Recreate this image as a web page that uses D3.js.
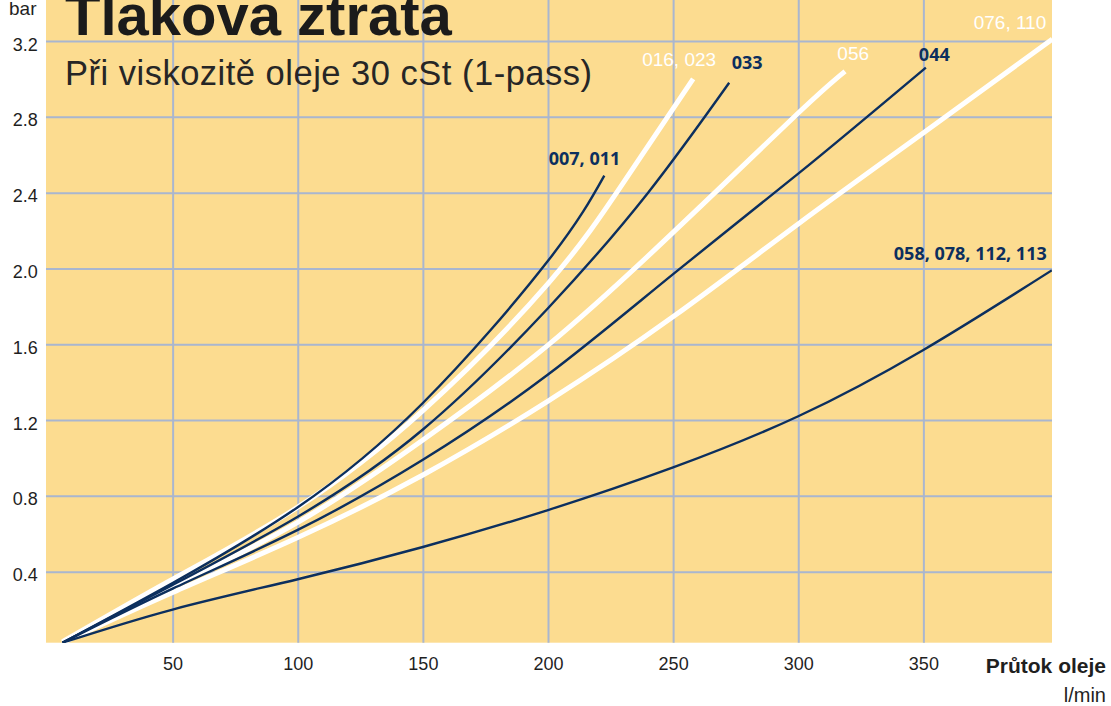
<!DOCTYPE html>
<html><head><meta charset="utf-8">
<script src="https://cdn.jsdelivr.net/npm/d3@7"></script>
<style>html,body{margin:0;padding:0;background:#fff;} svg{display:block;}</style>
</head><body><svg id="chart" width="1111" height="706"></svg>
<script>
// ---- data ----
const flowTicks = [50, 100, 150, 200, 250, 300, 350];
const pressureTicks = [0.4, 0.8, 1.2, 1.6, 2.0, 2.4, 2.8, 3.2];

const flow007 = [6, 50, 100, 150, 200, 222.5];
const bar007  = [0.025, 0.34, 0.74, 1.29, 2.04, 2.49];

const flow016 = [6, 50, 100, 150, 200, 230, 258];
const bar016  = [0.03, 0.36, 0.74, 1.25, 1.92, 2.45, 3.0];

const flow033 = [6, 50, 100, 150, 200, 240, 272.4];
const bar033  = [0.025, 0.33, 0.69, 1.15, 1.79, 2.4, 2.98];

const flow056 = [6, 50, 100, 150, 200, 250, 300, 318.7];
const bar056  = [0.025, 0.32, 0.66, 1.095, 1.595, 2.19, 2.82, 3.04];

const flow044 = [6, 50, 100, 150, 200, 250, 300, 351];
const bar044  = [0.025, 0.31, 0.62, 0.99, 1.44, 1.97, 2.50, 3.06];

const flow076 = [6, 50, 100, 150, 200, 250.5, 300.5, 350.5, 401.5];
const bar076  = [0.025, 0.29, 0.58, 0.91, 1.30, 1.75, 2.24, 2.72, 3.21];

const flow058 = [6, 50, 100, 150, 200, 250, 300, 350, 401.3];
const bar058  = [0.025, 0.20, 0.36, 0.53, 0.725, 0.95, 1.22, 1.57, 1.99];

const seriesLabels = ["007, 011", "016, 023", "033", "056", "044", "076, 110", "058, 078, 112, 113"];
const seriesFlows  = [flow007, flow016, flow033, flow056, flow044, flow076, flow058];
const seriesBars   = [bar007, bar016, bar033, bar056, bar044, bar076, bar058];

const titleText = "Tlakova ztrata";
const subtitleText = "Při viskozitě oleje 30 cSt (1-pass)";
const yUnit = "bar";
const xTitle = "Průtok oleje";
const xUnit = "l/min";

// ---- styles / layout ----
const NAVY = "#0c2f5e", WHITE = "#ffffff", PLOT_BG = "#fcdc90", GRID = "#a9b6cf", TEXT = "#1f1f1f";
const look = [
  {kind: "navy",  anchor: "end",   dx: 16,  dy: -10.5},
  {kind: "white", anchor: "end",   dx: 23,  dy: -13},
  {kind: "navy",  anchor: "start", dx: 2.5, dy: -13.3},
  {kind: "white", anchor: "start", dx: -7.7, dy: -11.4},
  {kind: "navy",  anchor: "start", dx: -7,  dy: -7},
  {kind: "white", anchor: "end",   dx: -6,  dy: -10},
  {kind: "navy",  anchor: "end",   dx: -5,  dy: -10.5}
];

const plot = {left: 46, right: 1052, top: 0, bottom: 642.7};
const svg = d3.select("#chart");

const x = d3.scaleLinear().domain([-0.6, 401.4]).range([plot.left, plot.right]);
const y = d3.scaleLinear().domain([0.025, 0.025 + plot.bottom / 189.5]).range([plot.bottom, plot.top]);

svg.append("rect").attr("x", plot.left).attr("y", plot.top)
  .attr("width", plot.right - plot.left).attr("height", plot.bottom - plot.top)
  .attr("fill", PLOT_BG);

svg.append("defs").append("clipPath").attr("id", "clip")
  .append("rect").attr("x", plot.left).attr("y", plot.top)
  .attr("width", plot.right - plot.left).attr("height", plot.bottom - plot.top);

// x axis + vertical grid
const xAxis = svg.append("g").attr("transform", `translate(0,${plot.bottom})`)
  .call(d3.axisBottom(x).tickValues(flowTicks).tickSize(-(plot.bottom - plot.top)).tickPadding(14.5).tickFormat(d3.format("d")));
xAxis.select(".domain").remove();
xAxis.selectAll("line").attr("stroke", GRID).attr("stroke-width", 2);
xAxis.selectAll("text").attr("fill", TEXT).style("font-family", "'Liberation Sans', Arial, sans-serif").style("font-size", "18px");

// y axis + horizontal grid
const yAxis = svg.append("g").attr("transform", `translate(${plot.left},0)`)
  .call(d3.axisLeft(y).tickValues(pressureTicks).tickSize(-(plot.right - plot.left)).tickPadding(8.3).tickFormat(d3.format(".1f")));
yAxis.select(".domain").remove();
yAxis.selectAll("line").attr("stroke", GRID).attr("stroke-width", 2);
yAxis.selectAll("text").attr("fill", TEXT).attr("dy", "0.5em")
  .style("font-family", "'Liberation Sans', Arial, sans-serif").style("font-size", "18px");

// curves
const line = d3.line().x(d => x(d[0])).y(d => y(d[1])).curve(d3.curveNatural);
const series = seriesLabels.map((label, i) => ({
  label, i, pts: seriesFlows[i].map((f, j) => [f, seriesBars[i][j]])
}));
const gLines = svg.append("g").attr("clip-path", "url(#clip)");
const order = series.filter(s => look[s.i].kind === "white").concat(series.filter(s => look[s.i].kind === "navy"));
gLines.selectAll("path").data(order).join("path")
  .attr("d", s => line(s.pts))
  .attr("fill", "none")
  .attr("stroke", s => look[s.i].kind === "white" ? WHITE : NAVY)
  .attr("stroke-width", s => look[s.i].kind === "white" ? 5 : 2.4)
  .attr("stroke-linecap", "butt")
  .attr("stroke-linejoin", "round");

// series labels
svg.append("g").selectAll("text").data(series).join("text")
  .attr("x", s => x(s.pts[s.pts.length - 1][0]) + look[s.i].dx)
  .attr("y", s => y(s.pts[s.pts.length - 1][1]) + look[s.i].dy)
  .attr("text-anchor", s => look[s.i].anchor)
  .attr("fill", s => look[s.i].kind === "white" ? WHITE : NAVY)
  .style("font-family", s => look[s.i].kind === "white" ? "'Liberation Sans', Arial, sans-serif" : "'Open Sans', sans-serif")
  .style("font-weight", s => look[s.i].kind === "white" ? "normal" : "bold")
  .style("font-size", s => look[s.i].kind === "white" ? "19px" : "18px")
  .text(s => s.label);

// titles
svg.append("text").attr("x", 65).attr("y", 35).attr("fill", "#1b1b1b")
  .style("font-family", "'Liberation Sans', Arial, sans-serif").style("font-weight", "bold").style("font-size", "58px")
  .text(titleText);
svg.append("text").attr("x", 65).attr("y", 85).attr("fill", "#262626")
  .style("font-family", "'Liberation Sans', Arial, sans-serif").style("font-size", "34.5px").style("letter-spacing", "0.5px")
  .text(subtitleText);

// axis titles
svg.append("text").attr("x", 9).attr("y", 14.5).attr("fill", TEXT)
  .style("font-family", "'Liberation Sans', Arial, sans-serif").style("font-size", "19px").text(yUnit);
svg.append("text").attr("x", 1106).attr("y", 673.3).attr("text-anchor", "end").attr("fill", TEXT)
  .style("font-family", "'Liberation Sans', Arial, sans-serif").style("font-weight", "bold").style("font-size", "21px").text(xTitle);
svg.append("text").attr("x", 1106).attr("y", 701.7).attr("text-anchor", "end").attr("fill", TEXT)
  .style("font-family", "'Liberation Sans', Arial, sans-serif").style("font-size", "20px").text(xUnit);
</script>
</body></html>
